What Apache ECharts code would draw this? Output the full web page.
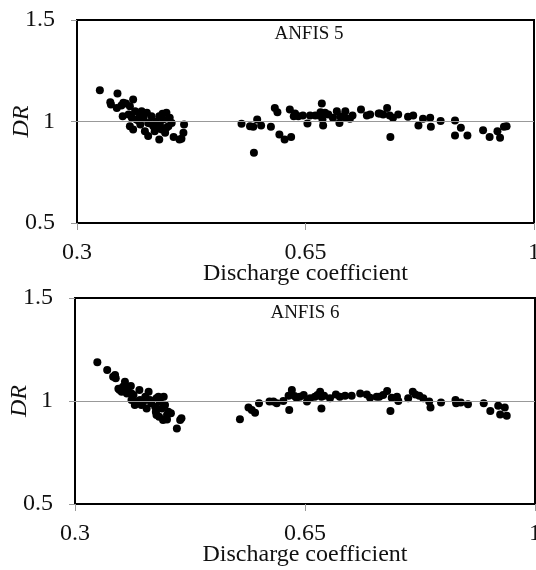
<!DOCTYPE html>
<html>
<head>
<meta charset="utf-8">
<script src="https://cdn.jsdelivr.net/npm/echarts@6/dist/echarts.min.js"></script>
<style>
  html, body { margin: 0; padding: 0; background: #fff; }
  #chart { width: 536px; height: 570px; }
</style>
</head>
<body>
<div id="chart"></div>
<script>
// Tick values shared by both panels
const xTicks = [0.3, 0.65, 1];
const yTicks = [0.5, 1, 1.5];
const panelTitles = ['ANFIS 5', 'ANFIS 6'];
const xAxisTitle = 'Discharge coefficient';
const yAxisTitle = 'DR';

// ANFIS 5: discharge coefficient vs DR
const anfis5X = [
  0.335, 0.351, 0.352, 0.362, 0.361, 0.368, 0.375, 0.386, 0.371, 0.381,
  0.370, 0.379, 0.384, 0.389, 0.381, 0.386, 0.391, 0.396, 0.399, 0.402,
  0.407, 0.409, 0.404, 0.409, 0.414, 0.417, 0.419, 0.426, 0.426, 0.427,
  0.430, 0.432, 0.435, 0.437, 0.440, 0.442, 0.445, 0.437, 0.448, 0.457,
  0.460, 0.463, 0.464, 0.421, 0.431, 0.394, 0.412, 0.424, 0.397,
  0.552, 0.565, 0.570, 0.576, 0.582, 0.571, 0.597, 0.603, 0.607, 0.610,
  0.618, 0.628, 0.626, 0.634, 0.632, 0.639, 0.646, 0.653, 0.657, 0.665,
  0.671, 0.675, 0.673, 0.677, 0.680, 0.685, 0.676, 0.692, 0.698, 0.702,
  0.703, 0.711, 0.711, 0.718, 0.722, 0.735, 0.744, 0.749, 0.762,
  0.764, 0.769, 0.775, 0.779, 0.784, 0.792, 0.780, 0.807, 0.815, 0.823,
  0.830, 0.841, 0.842, 0.857, 0.879, 0.879, 0.888, 0.898, 0.922, 0.932,
  0.944, 0.948, 0.954, 0.958
];
const anfis5Y = [
  1.154, 1.095, 1.084, 1.138, 1.067, 1.079, 1.089, 1.108, 1.092, 1.075,
  1.026, 1.034, 1.018, 1.051, 0.977, 0.961, 1.010, 1.034, 1.051, 1.018,
  1.043, 0.993, 0.952, 0.928, 1.026, 0.977, 0.952, 1.026, 0.911, 0.985,
  0.961, 1.010, 0.944, 1.043, 0.977, 1.018, 0.993, 0.969, 0.924, 0.911,
  0.915, 0.944, 0.985, 1.000, 1.038, 1.005, 0.990, 0.965, 0.985,
  0.989, 0.977, 0.974, 1.010, 0.980, 0.846, 0.974, 1.067, 1.046, 0.936,
  0.911, 0.924, 1.059, 1.039, 1.026, 1.026, 1.030, 0.990, 1.030, 1.030,
  1.030, 1.089, 1.046, 0.980, 1.043, 1.034, 1.010, 1.018, 1.051, 0.993,
  1.026, 1.051, 1.018, 1.013, 1.030, 1.059, 1.030, 1.034, 1.039,
  1.039, 1.034, 1.067, 1.030, 1.018, 1.034, 0.924, 1.023, 1.030, 0.980,
  1.013, 1.018, 0.974, 1.002, 1.005, 0.931, 0.969, 0.931, 0.957, 0.924,
  0.952, 0.920, 0.974, 0.977
];

// ANFIS 6: discharge coefficient vs DR
const anfis6X = [
  0.334, 0.349, 0.361, 0.362, 0.358, 0.376, 0.368, 0.373, 0.381, 0.379,
  0.385, 0.386, 0.386, 0.391, 0.398, 0.399, 0.401, 0.407, 0.409, 0.412,
  0.414, 0.422, 0.423, 0.424, 0.427, 0.429, 0.432, 0.435, 0.437, 0.434,
  0.440, 0.442, 0.446, 0.440, 0.455, 0.460, 0.462, 0.389, 0.395, 0.404,
  0.416, 0.424, 0.428, 0.366, 0.371,
  0.551, 0.564, 0.569, 0.574, 0.580, 0.596, 0.602, 0.607, 0.617, 0.625,
  0.630, 0.626, 0.637, 0.642, 0.648, 0.653, 0.658, 0.665, 0.669, 0.673,
  0.675, 0.679, 0.675, 0.688, 0.697, 0.703, 0.711, 0.721, 0.734, 0.744,
  0.749, 0.759, 0.634,
  0.763, 0.769, 0.775, 0.782, 0.790, 0.792, 0.780, 0.807, 0.814, 0.818,
  0.824, 0.830, 0.839, 0.841, 0.857, 0.879, 0.880, 0.887, 0.898, 0.922,
  0.932, 0.944, 0.947, 0.954, 0.957
];
const anfis6Y = [
  1.188, 1.150, 1.126, 1.110, 1.118, 1.094, 1.053, 1.069, 1.069, 1.037,
  1.073, 1.037, 1.005, 0.981, 1.053, 1.005, 0.981, 1.021, 0.964, 1.045,
  1.005, 0.972, 0.948, 0.932, 1.021, 0.997, 0.964, 1.021, 0.981, 0.908,
  0.932, 0.948, 0.940, 0.910, 0.867, 0.908, 0.916, 1.029, 0.997, 0.997,
  0.989, 1.013, 0.924, 1.060, 1.045,
  0.911, 0.968, 0.956, 0.943, 0.989, 0.997, 0.997, 0.989, 1.000, 1.026,
  1.053, 0.956, 1.016, 1.021, 1.029, 0.997, 1.013, 1.021, 1.029, 1.045,
  1.021, 1.026, 0.964, 1.013, 1.032, 1.021, 1.026, 1.026, 1.037, 1.032,
  1.016, 1.021, 1.024,
  1.021, 1.029, 1.049, 1.016, 1.021, 1.000, 0.951, 1.013, 1.045, 1.032,
  1.026, 1.013, 0.997, 0.968, 0.993, 1.005, 0.989, 0.993, 0.984, 0.989,
  0.951, 0.977, 0.935, 0.968, 0.929
];

const serif = '"Liberation Serif", "Times New Roman", serif';
const textColor = '#111';

function pairs(xs, ys) {
  return xs.map((x, i) => [x, ys[i]]);
}

// Plot frames of the two panels
const grids = [
  { left: 77, top: 20, right: 2, height: 203 },
  { left: 75, top: 298, right: 1, height: 206 }
];

function xAxisFor(i) {
  return {
    gridIndex: i, type: 'value', min: xTicks[0], max: xTicks[xTicks.length - 1],
    axisLine: { show: false },
    axisTick: { show: true, customValues: xTicks, length: 7, lineStyle: { color: '#999', width: 1 } },
    axisLabel: { customValues: xTicks, color: textColor, fontFamily: serif, fontSize: 24, margin: 18,
                 showMinLabel: true, showMaxLabel: true },
    splitLine: { show: false },
    name: xAxisTitle, nameLocation: 'middle', nameGap: 39, nameMoveOverlap: false,
    nameTextStyle: { color: textColor, fontFamily: serif, fontSize: 24 }
  };
}

function yAxisFor(i) {
  return {
    gridIndex: i, type: 'value', min: yTicks[0], max: yTicks[yTicks.length - 1], interval: 0.5,
    axisLine: { show: false },
    axisTick: { show: true, length: 6, lineStyle: { color: '#999', width: 1 } },
    axisLabel: { color: textColor, fontFamily: serif, fontSize: 24, margin: 22 },
    splitLine: { show: false },
    name: yAxisTitle, nameLocation: 'middle', nameGap: 43, nameRotate: 90, nameMoveOverlap: false,
    nameTextStyle: { color: textColor, fontFamily: serif, fontSize: 24, fontStyle: 'italic' }
  };
}

function scatterFor(i, data) {
  return {
    type: 'scatter', xAxisIndex: i, yAxisIndex: i, data: data,
    symbol: 'circle', symbolSize: 8, itemStyle: { color: '#000', opacity: 1 },
    markLine: {
      silent: true, symbol: 'none', label: { show: false },
      lineStyle: { color: '#999', width: 1, type: 'solid' },
      data: [{ yAxis: 1 }]
    }
  };
}

function panelTitle(text, x, y) {
  return {
    text: text, left: x, top: y, textAlign: 'center',
    textStyle: { fontFamily: serif, fontSize: 19, fontWeight: 'normal', color: textColor }
  };
}

const chart = echarts.init(document.getElementById('chart'), null, { renderer: 'canvas' });
chart.setOption({
  animation: false,
  backgroundColor: '#fff',
  grid: grids.map(g => Object.assign({
    show: true, borderColor: '#000', borderWidth: 2, backgroundColor: 'transparent',
    containLabel: false, outerBoundsMode: 'none'
  }, g)),
  title: [panelTitle(panelTitles[0], 304, 20), panelTitle(panelTitles[1], 300, 299)],
  xAxis: [xAxisFor(0), xAxisFor(1)],
  yAxis: [yAxisFor(0), yAxisFor(1)],
  series: [scatterFor(0, pairs(anfis5X, anfis5Y)), scatterFor(1, pairs(anfis6X, anfis6Y))]
});
</script>
</body>
</html>
